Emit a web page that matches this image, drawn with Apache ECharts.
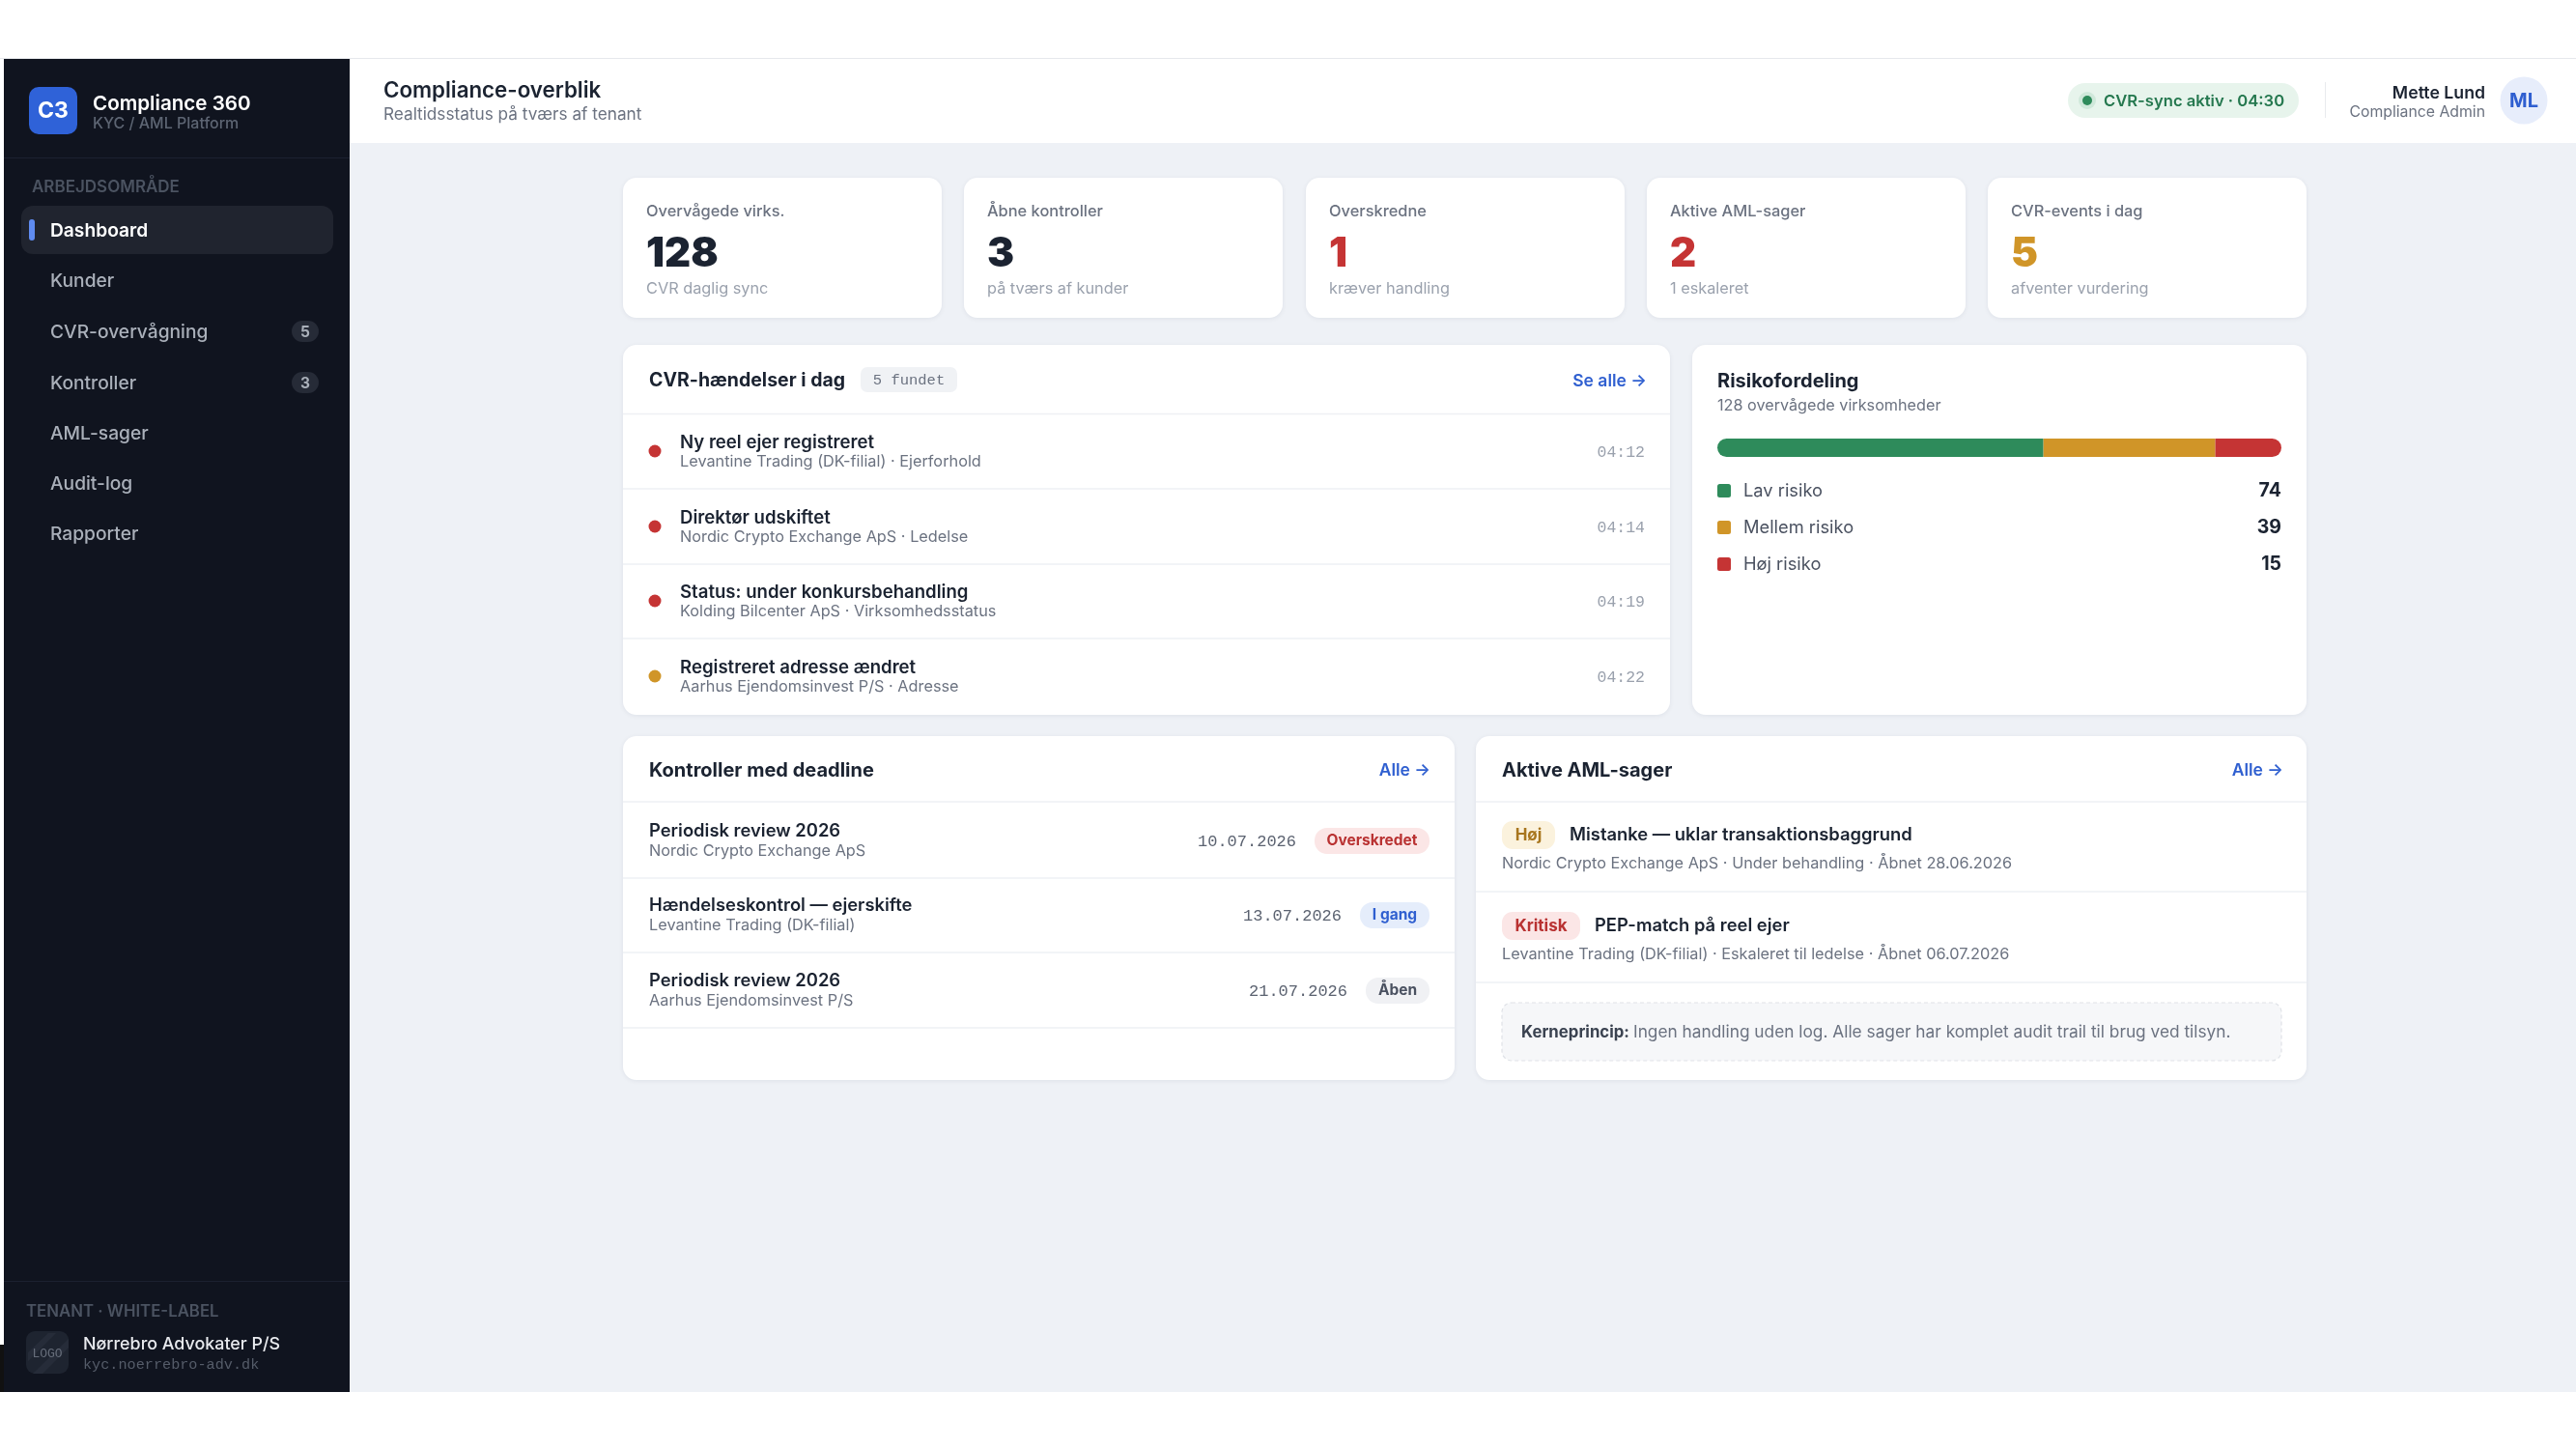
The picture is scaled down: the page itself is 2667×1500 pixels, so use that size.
<!DOCTYPE html>
<html>
<head>
<meta charset="utf-8">
<title>Compliance-overblik</title>
<script src="https://cdn.jsdelivr.net/npm/echarts@6/dist/echarts.min.js"></script>
<style>
  html, body { margin: 0; padding: 0; background: #fff; }
  #chart { width: 2667px; height: 1500px; }
</style>
</head>
<body>
<div id="chart"></div>
<script>
// data
const navItems = ['Dashboard', 'Kunder', 'CVR-overvågning', 'Kontroller', 'AML-sager', 'Audit-log', 'Rapporter'];
const navBadges = ['', '', '5', '3', '', '', ''];

const kpiLabels = ['Overvågede virks.', 'Åbne kontroller', 'Overskredne', 'Aktive AML-sager', 'CVR-events i dag'];
const kpiValues = [128, 3, 1, 2, 5];
const kpiNotes = ['CVR daglig sync', 'på tværs af kunder', 'kræver handling', '1 eskaleret', 'afventer vurdering'];

const eventTitles = ['Ny reel ejer registreret', 'Direktør udskiftet', 'Status: under konkursbehandling', 'Registreret adresse ændret'];
const eventNotes = ['Levantine Trading (DK-filial) · Ejerforhold', 'Nordic Crypto Exchange ApS · Ledelse', 'Kolding Bilcenter ApS · Virksomhedsstatus', 'Aarhus Ejendomsinvest P/S · Adresse'];
const eventTimes = ['04:12', '04:14', '04:19', '04:22'];
const eventLevels = ['red', 'red', 'red', 'amber'];

const riskLabels = ['Lav risiko', 'Mellem risiko', 'Høj risiko'];
const riskValues = [74, 39, 15];

const controlTitles = ['Periodisk review 2026', 'Hændelseskontrol — ejerskifte', 'Periodisk review 2026'];
const controlNotes = ['Nordic Crypto Exchange ApS', 'Levantine Trading (DK-filial)', 'Aarhus Ejendomsinvest P/S'];
const controlDates = ['10.07.2026', '13.07.2026', '21.07.2026'];
const controlStates = ['Overskredet', 'I gang', 'Åben'];

const caseLevels = ['Høj', 'Kritisk'];
const caseTitles = ['Mistanke — uklar transaktionsbaggrund', 'PEP-match på reel ejer'];
const caseNotes = ['Nordic Crypto Exchange ApS · Under behandling · Åbnet 28.06.2026', 'Levantine Trading (DK-filial) · Eskaleret til ledelse · Åbnet 06.07.2026'];

const SANS = 'Inter, Roboto, sans-serif';
const MONO = '"Liberation Mono", "DejaVu Sans Mono", monospace';
const INK = '#1b2331', MUTED = '#6b7280', FAINT = '#9aa1ad', LINE = '#eef0f4';
const BLUE = '#2f5fd0', RED = '#c53434', AMBER = '#d09528', GREEN = '#2e8b5b';
const riskColors = [GREEN, AMBER, RED];

const els = [];

function rect(x, y, w, h, fill, r, extra) {
  els.push({ type: 'rect', shape: { x, y, width: w, height: h, r: r || 0 }, style: Object.assign({ fill }, extra || {}) });
}
function card(x, y, w, h) {
  rect(x, y, w, h, '#fff', 14, { shadowBlur: 5, shadowColor: 'rgba(20,30,50,0.07)', shadowOffsetY: 1 });
}
function line(x1, y1, x2, y2, color) {
  els.push({ type: 'line', shape: { x1, y1, x2, y2 }, style: { stroke: color || LINE, lineWidth: 1.5 } });
}
function dot(cx, cy, r, fill) {
  els.push({ type: 'circle', shape: { cx, cy, r }, style: { fill } });
}
function label(x, y, text, size, fill, weight, align, family) {
  els.push({
    type: 'text', z: 5,
    style: {
      x, y: y + 1.5, text, fill,
      font: (weight || 400) + ' ' + size + 'px ' + (family || SANS),
      textAlign: align || 'left', textVerticalAlign: 'middle', align: align || 'left', verticalAlign: 'middle'
    }
  });
}

// page frame
rect(0, 0, 2667, 1500, '#fff');
rect(0, 60, 2667, 1, '#e6e8ec');
rect(362, 61, 2305, 1380, '#eef1f6');
rect(362, 61, 2305, 87, '#fff');
rect(0, 1392, 4, 49, '#111');

// sidebar
rect(4, 61, 358, 1380, '#10141f');
rect(30, 90, 50, 49, '#2f62d8', 10);
label(55, 114, 'C3', 23, '#fff', 700, 'center');
label(96, 106, 'Compliance 360', 20.6, '#fff', 600);
label(96, 127, 'KYC / AML Platform', 16, '#5d6573', 500);
rect(4, 163, 358, 1, '#1c2130');
label(33, 192, 'ARBEJDSOMRÅDE', 17, '#4b5361', 600);
rect(22, 213, 323, 50, '#20242f', 12);
rect(30, 227, 6, 22, '#5f8bf0', 3);
const navY = [238, 290, 343, 396, 448, 500, 552];
navItems.forEach((item, i) => {
  label(52, navY[i], item, 19.2, i === 0 ? '#fff' : '#aab0ba', i === 0 ? 600 : 500);
  if (navBadges[i]) {
    rect(302, navY[i] - 11, 28, 22, '#262b37', 11);
    label(316, navY[i] - 0.5, navBadges[i], 15.5, '#aab0ba', 700, 'center');
  }
});
rect(4, 1326, 358, 1, '#1c2130');
label(27, 1356, 'TENANT · WHITE-LABEL', 16.8, '#4b5361', 600);
rect(27, 1378, 44, 44, '#1e2430', 9);
[[29, 1400, 50, 1380, 58, 1380, 29, 1409], [34, 1422, 71, 1386, 71, 1395, 44, 1422]].forEach((p) => {
  els.push({ type: 'polygon', shape: { points: [[p[0], p[1]], [p[2], p[3]], [p[4], p[5]], [p[6], p[7]]] }, style: { fill: '#262c39' } });
});
label(49, 1400, 'LOGO', 13, '#666d7a', 400, 'center', MONO);
label(86, 1390, 'Nørrebro Advokater P/S', 17.9, '#e8eaee', 500);
label(86, 1411, 'kyc.noerrebro-adv.dk', 15.2, '#555c69', 400, 'left', MONO);

// top bar
label(397, 93, 'Compliance-overblik', 22.3, INK, 600);
label(397, 117, 'Realtidsstatus på tværs af tenant', 17.2, MUTED, 400);
rect(2141, 86, 239, 36, '#e7f4ec', 18);
dot(2161, 104, 9, '#cfe8da');
dot(2161, 104, 5, GREEN);
label(2178, 103, 'CVR-sync aktiv · 04:30', 16.6, '#25784f', 600);
rect(2407, 85, 1, 37, '#e8eaee');
label(2573, 95, 'Mette Lund', 17.7, INK, 600, 'right');
label(2573, 115, 'Compliance Admin', 15.8, MUTED, 400, 'right');
dot(2613, 104, 24.5, '#e7edfb');
label(2613, 103, 'ML', 20, BLUE, 700, 'center');

// kpi cards
const kpiX = [645, 998, 1352, 1705, 2058];
const kpiColors = [INK, INK, RED, RED, AMBER];
kpiLabels.forEach((name, i) => {
  card(kpiX[i], 184, 330, 145);
  label(kpiX[i] + 24, 217.5, name, 16.4, MUTED, 500);
  label(kpiX[i] + 24, 261.5, String(kpiValues[i]), 42, kpiColors[i], 900);
  label(kpiX[i] + 24, 298, kpiNotes[i], 16.3, FAINT, 400);
});

// CVR events panel
card(645, 357, 1084, 383);
label(672, 393, 'CVR-hændelser i dag', 19.5, INK, 700);
rect(891, 380, 100, 26, '#f0f2f5', 7);
label(941, 392, '5 fundet', 15.5, MUTED, 400, 'center', MONO);
label(1705, 393, 'Se alle →', 17.5, BLUE, 600, 'right');
line(645, 428.5, 1729, 428.5);
const eventY = [467, 545, 622, 700];
eventTitles.forEach((title, i) => {
  dot(678, eventY[i], 6.5, eventLevels[i] === 'red' ? RED : AMBER);
  label(704, eventY[i] - 10, title, 18.6, INK, 600);
  label(704, eventY[i] + 10, eventNotes[i], 16.3, MUTED, 400);
  label(1703, eventY[i], eventTimes[i], 16.5, FAINT, 400, 'right', MONO);
  if (i < 3) line(645, eventY[i] + 39, 1729, eventY[i] + 39);
});

// risk panel, the bar itself is a stacked series below
card(1752, 357, 636, 383);
label(1778, 393, 'Risikofordeling', 20, INK, 700);
label(1778, 419, '128 overvågede virksomheder', 16.2, MUTED, 400);
const riskY = [508, 546, 584];
riskLabels.forEach((name, i) => {
  rect(1778, riskY[i] - 7, 14, 14, riskColors[i], 2.5);
  label(1805, riskY[i] - 1, name, 18.3, '#4a5160', 400);
  label(2362, riskY[i] - 1, String(riskValues[i]), 19.5, INK, 700, 'right');
});

// deadlines panel
card(645, 762, 861, 356);
label(672, 796, 'Kontroller med deadline', 20, INK, 700);
label(1481, 796, 'Alle →', 17.5, BLUE, 600, 'right');
line(645, 830, 1506, 830);
const controlY = [870, 947, 1025];
const stateBg = ['#fbe6e6', '#e5edfb', '#f0f1f4'];
const stateFg = ['#b93232', BLUE, '#4a5160'];
const stateW = [119, 72, 66];
controlTitles.forEach((title, i) => {
  label(672, controlY[i] - 11, title, 18.4, INK, 600);
  label(672, controlY[i] + 10, controlNotes[i], 16.3, MUTED, 400);
  const bx = 1480 - stateW[i];
  rect(bx, controlY[i] - 13, stateW[i], 27, stateBg[i], 13);
  label(bx + stateW[i] / 2, controlY[i] - 1, controlStates[i], 15.5, stateFg[i], 700, 'center');
  label(bx - 19, controlY[i] - 0.5, controlDates[i], 17, '#5b6270', 400, 'right', MONO);
  line(645, controlY[i] + 39, 1506, controlY[i] + 39);
});

// AML panel
card(1528, 762, 860, 356);
label(1555, 796, 'Aktive AML-sager', 20, INK, 700);
label(2364, 796, 'Alle →', 17.5, BLUE, 600, 'right');
line(1528, 830, 2388, 830);
const caseY = [864, 958];
const caseBg = ['#fbf2dd', '#fbe6e6'];
const caseFg = ['#a8761e', '#b93232'];
const caseW = [55, 81];
caseTitles.forEach((title, i) => {
  rect(1555, caseY[i] - 14, caseW[i], 29, caseBg[i], 11);
  label(1555 + caseW[i] / 2, caseY[i] - 1, caseLevels[i], 17, caseFg[i], 700, 'center');
  label(1555 + caseW[i] + 15, caseY[i] - 1, title, 18.4, INK, 600);
  label(1555, caseY[i] + 29, caseNotes[i], 16.3, MUTED, 400);
  line(1528, caseY[i] + 59, 2388, caseY[i] + 59);
});
rect(1555, 1038, 807, 60, '#f6f7f9', 10, { stroke: '#dfe2e7', lineWidth: 1.2, lineDash: [4, 3] });
label(1575, 1067, 'Kerneprincip:', 16.8, '#3a4250', 700);
label(1691, 1067, 'Ingen handling uden log. Alle sager har komplet audit trail til brug ved tilsyn.', 17.3, MUTED, 400);

// stacked risk bar, scale is the 128 companies
const riskSeries = riskLabels.map((name, i) => ({
  name,
  type: 'bar',
  stack: 'risk',
  barWidth: 19,
  silent: true,
  data: [riskValues[i]],
  itemStyle: {
    color: riskColors[i],
    borderRadius: i === 0 ? [10, 0, 0, 10] : i === 2 ? [0, 10, 10, 0] : 0
  }
}));

const chart = echarts.init(document.getElementById('chart'));
chart.setOption({
  animation: false,
  grid: { left: 1778, top: 454, width: 584, height: 19 },
  xAxis: { type: 'value', min: 0, max: 128, show: false },
  yAxis: { type: 'category', data: ['Risiko'], show: false },
  series: riskSeries,
  graphic: { elements: els }
});
</script>
</body>
</html>
